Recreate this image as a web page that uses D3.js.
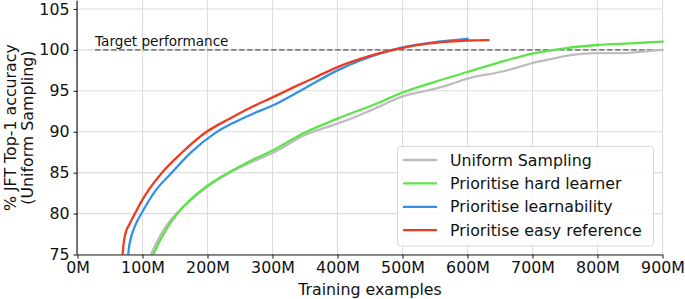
<!DOCTYPE html>
<html>
<head>
<meta charset="utf-8">
<script src="https://cdn.jsdelivr.net/npm/d3@7/dist/d3.min.js"></script>
<style>
  html, body { margin: 0; padding: 0; background: #fff; }
  svg text { font-family: "DejaVu Sans", sans-serif; fill: #111; }
</style>
</head>
<body>
<svg id="chart" width="685" height="299"></svg>
<script>
// ---- data (x in millions of training examples, y in % accuracy) ----
const seriesNames = ["Uniform Sampling", "Prioritise hard learner", "Prioritise learnability", "Prioritise easy reference"];
const seriesColors = ["#bdbdbd", "#5ee34b", "#3390e4", "#ec3c22"];

const uniformX = [113, 122, 135, 150, 175, 200, 234, 265, 300, 350, 400, 430, 465, 496, 542, 570, 600, 650, 675, 700, 730, 758, 800, 840, 870, 900];
const uniformY = [75, 76.5, 78.3, 79.8, 81.7, 83.3, 85.0, 86.2, 87.4, 89.6, 91.0, 91.9, 93.1, 94.2, 95.1, 95.7, 96.5, 97.3, 97.8, 98.4, 98.9, 99.35, 99.6, 99.6, 99.8, 100.0];

const hardX = [116.7, 125, 140, 153.6, 175, 200, 234.6, 265, 300, 350, 400, 465, 500, 550, 600, 650, 700, 750, 800, 850, 900];
const hardY = [75, 76.4, 78.5, 80.0, 81.8, 83.4, 85.1, 86.4, 87.7, 89.9, 91.6, 93.6, 94.8, 96.1, 97.3, 98.5, 99.55, 100.2, 100.6, 100.8, 101.0];

const learnX = [78, 79.5, 82, 86, 92, 99, 110, 120, 145, 175, 211, 240, 270, 300, 347, 400, 435, 465, 500, 550, 600];
const learnY = [75, 76.0, 77.0, 78.0, 79.1, 80.1, 81.6, 82.8, 85.0, 87.5, 89.8, 91.1, 92.2, 93.2, 95.2, 97.5, 98.7, 99.55, 100.3, 100.95, 101.35];

const easyX = [69.5, 70.5, 72, 75, 80, 85, 90, 100, 110, 130, 160, 197, 234, 265, 300, 337, 370, 400, 435, 465, 491, 520, 560, 600, 632];
const easyY = [75, 76.0, 76.9, 77.9, 78.7, 79.5, 80.25, 81.7, 82.95, 85.0, 87.4, 89.9, 91.6, 92.9, 94.2, 95.6, 96.8, 97.9, 98.9, 99.6, 100.1, 100.55, 100.95, 101.15, 101.2];

const seriesX = [uniformX, hardX, learnX, easyX];
const seriesY = [uniformY, hardY, learnY, easyY];

const xTicks = [0, 100, 200, 300, 400, 500, 600, 700, 800, 900];
const yTicks = [75, 80, 85, 90, 95, 100, 105];
const targetValue = 100;
const targetStart = 27;
const targetLabel = "Target performance";
const xLabel = "Training examples";
const yLabelLines = ["% JFT Top-1 accuracy", "(Uniform Sampling)"];

(function () {
// ---- layout ----
const svg = d3.select("#chart");
const pl = 77.5, pr = 662.5, pt = 0.8, pb = 254.5;
const FS = 15.8;

const x = d3.scaleLinear().domain([0, 900]).range([pl, pr]);
const y = d3.scaleLinear().domain([75, 106]).range([pb, pt]);

// grid
const grid = svg.append("g");
grid.selectAll("line.v").data(xTicks).enter().append("line")
  .attr("x1", d => x(d)).attr("x2", d => x(d))
  .attr("y1", pt).attr("y2", pb)
  .attr("stroke", "#dcdcdc").attr("stroke-width", 1.1);
grid.selectAll("line.h").data(yTicks).enter().append("line")
  .attr("x1", pl).attr("x2", pr)
  .attr("y1", d => y(d)).attr("y2", d => y(d))
  .attr("stroke", "#dcdcdc").attr("stroke-width", 1.1);

// target line
svg.append("line")
  .attr("x1", x(targetStart)).attr("x2", x(900))
  .attr("y1", y(targetValue)).attr("y2", y(targetValue))
  .attr("stroke", "#808080").attr("stroke-width", 1.6)
  .attr("stroke-dasharray", "5.5,2.5");
svg.append("text")
  .attr("x", x(targetStart)).attr("y", y(targetValue) - 3.5)
  .attr("font-size", 13.6).text(targetLabel);

// lines
svg.append("clipPath").attr("id", "clip").append("rect")
  .attr("x", pl).attr("y", pt).attr("width", pr - pl + 2).attr("height", pb - pt);
const line = d3.line().x(d => x(d[0])).y(d => y(d[1])).curve(d3.curveMonotoneX);
const lg = svg.append("g").attr("clip-path", "url(#clip)");
seriesX.forEach((xs, i) => {
  const pts = xs.map((v, j) => [v, seriesY[i][j]]);
  lg.append("path").datum(pts)
    .attr("d", line).attr("fill", "none")
    .attr("stroke", seriesColors[i]).attr("stroke-width", 2.3)
    .attr("stroke-linecap", "square");
});

// axes
const xAxis = d3.axisBottom(x).tickValues(xTicks).tickFormat(d => d + "M").tickSize(4).tickPadding(3);
const gx = svg.append("g").attr("transform", `translate(0,${pb})`).call(xAxis);
const yAxis = d3.axisLeft(y).tickValues(yTicks).tickSize(4).tickPadding(4);
const gy = svg.append("g").attr("transform", `translate(${pl},0)`).call(yAxis);
[gx, gy].forEach(g => {
  g.select(".domain").attr("stroke", "#222").attr("stroke-width", 1.2);
  g.selectAll(".tick line").attr("stroke", "#222").attr("stroke-width", 1.1);
  g.selectAll(".tick text").attr("font-family", "DejaVu Sans").attr("font-size", FS).attr("fill", "#111");
});
gx.select(".domain").attr("d", `M${pl},0.5H${pr}`);
gy.select(".domain").attr("d", `M-0.5,${pt}V${pb}`);

// axis labels
svg.append("text").attr("x", (pl + pr) / 2).attr("y", 295)
  .attr("text-anchor", "middle").attr("font-size", FS).text(xLabel);
const yc = (pt + pb) / 2;
yLabelLines.forEach((t, i) => {
  svg.append("text")
    .attr("transform", `translate(${15.5 + i * 17.5},${yc}) rotate(-90)`)
    .attr("text-anchor", "middle").attr("font-size", FS).text(t);
});

// legend
const leg = svg.append("g");
leg.append("rect").attr("x", 397.5).attr("y", 146.5).attr("width", 256).attr("height", 99.5)
  .attr("rx", 3).attr("fill", "#fff").attr("fill-opacity", 0.85)
  .attr("stroke", "#d6dbd9").attr("stroke-width", 1);
seriesNames.forEach((name, i) => {
  const cy = 160 + i * 23.4;
  leg.append("line").attr("x1", 403).attr("x2", 437).attr("y1", cy).attr("y2", cy)
    .attr("stroke", seriesColors[i]).attr("stroke-width", 2.3);
  leg.append("text").attr("x", 450).attr("y", cy + 5.6).attr("font-size", FS).text(name);
});
})();
</script>
</body>
</html>
